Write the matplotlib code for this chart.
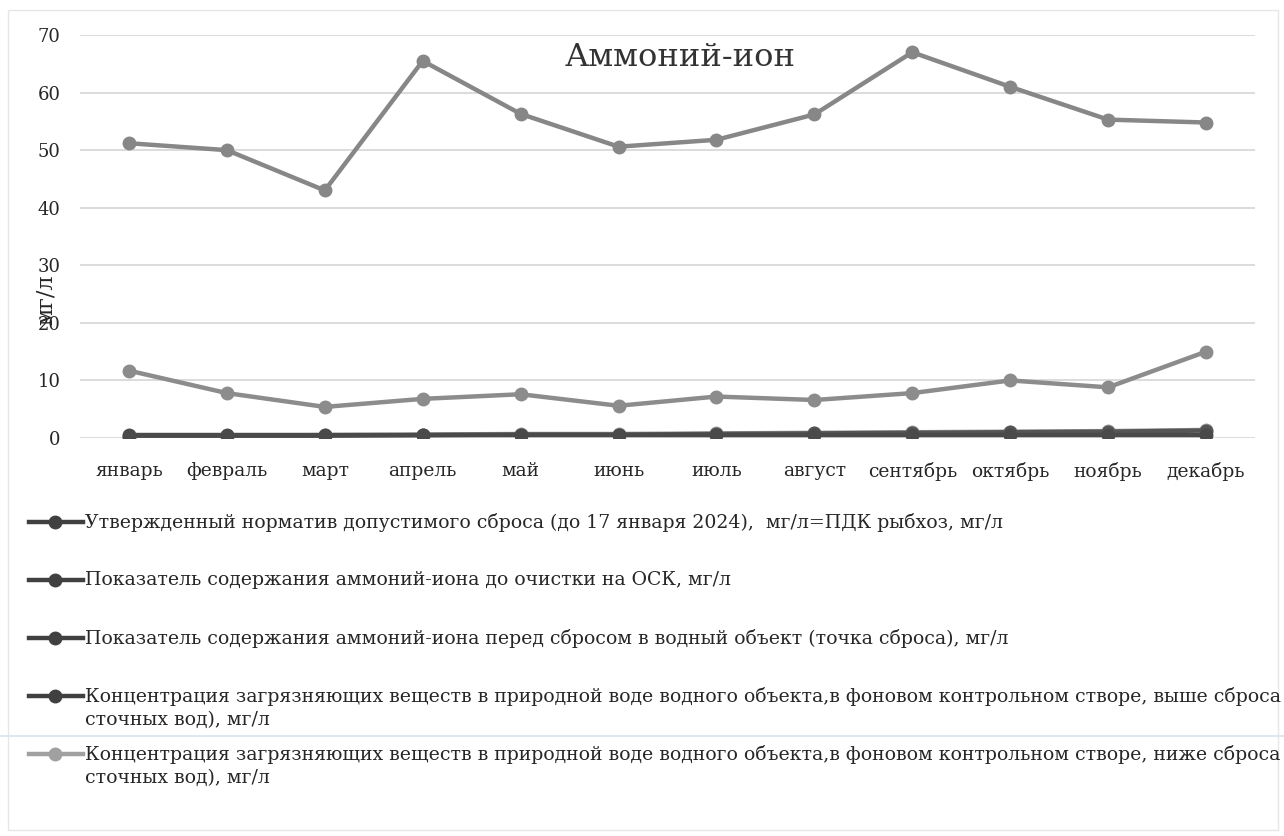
import matplotlib
matplotlib.use("Agg")
import matplotlib.pyplot as plt
from matplotlib.lines import Line2D

plt.rcParams['font.family'] = ['DejaVu Serif', 'Liberation Serif']

months = ["январь", "февраль", "март", "апрель", "май", "июнь", "июль",
          "август", "сентябрь", "октябрь", "ноябрь", "декабрь"]

norm_pdk = [0.5, 0.5, 0.5, 0.5, 0.5, 0.5, 0.5, 0.5, 0.5, 0.5, 0.5, 0.5]
before_osk = [51.2, 50.0, 43.0, 65.5, 56.3, 50.6, 51.8, 56.2, 67.0, 61.0, 55.3, 54.8]
before_discharge = [11.7, 7.8, 5.4, 6.8, 7.6, 5.6, 7.2, 6.6, 7.8, 10.0, 8.8, 15.0]
upstream = [0.2, 0.3, 0.4, 0.5, 0.6, 0.6, 0.7, 0.8, 0.9, 1.0, 1.1, 1.3]
downstream = [0.3, 0.4, 0.5, 0.6, 0.7, 0.7, 0.8, 0.9, 1.0, 1.1, 1.2, 1.4]

yticks = [0, 10, 20, 30, 40, 50, 60, 70]

labels = [
    "Утвержденный норматив допустимого сброса (до 17 января 2024),  мг/л=ПДК рыбхоз, мг/л",
    "Показатель содержания аммоний-иона до очистки на ОСК, мг/л",
    "Показатель содержания аммоний-иона перед сбросом в водный объект (точка сброса), мг/л",
    "Концентрация загрязняющих веществ в природной воде водного объекта,в фоновом контрольном створе, выше сброса\nсточных вод), мг/л",
    "Концентрация загрязняющих веществ в природной воде водного объекта,в фоновом контрольном створе, ниже сброса\nсточных вод), мг/л",
]
legend_colors = ["#404040", "#404040", "#404040", "#404040", "#a0a0a0"]

W, H = 1284, 836
fig = plt.figure(figsize=(W / 100, H / 100), dpi=100)
fig.patch.set_facecolor("white")

ax = fig.add_axes([80 / W, 1 - 438 / H, 1175 / W, 403 / H])
x = list(range(len(months)))

text_col = "#262626"
lw = 3.2
ms = 9

ax.plot(x, downstream, color="#9a9a9a", lw=lw, marker="o", ms=ms, zorder=3)
ax.plot(x, upstream, color="#555555", lw=lw, marker="o", ms=ms, zorder=4)
ax.plot(x, norm_pdk, color="#4a4a4a", lw=lw, marker="o", ms=ms, zorder=5)
ax.plot(x, before_discharge, color="#8c8c8c", lw=lw, marker="o", ms=ms, zorder=3)
ax.plot(x, before_osk, color="#878787", lw=lw, marker="o", ms=ms, zorder=3)

ax.set_xlim(-0.5, 11.5)
ax.set_ylim(0, 70)
ax.set_yticks(yticks)
ax.set_xticks(x)
ax.set_xticklabels(months)
ax.yaxis.grid(True, color="#d6d6d6", lw=1.2)
ax.set_axisbelow(True)
for s in ax.spines.values():
    s.set_visible(False)
ax.tick_params(axis="both", length=0, colors=text_col)
ax.tick_params(axis="y", pad=14, labelsize=13)
ax.tick_params(axis="x", pad=17, labelsize=13.5)
ax.set_ylabel("мг/л", fontsize=16, color=text_col)
ax.yaxis.set_label_coords(-0.029, 0.342)
ax.yaxis.label.set_va("center")

ax.text(0.511, 0.943, "Аммоний-ион", transform=ax.transAxes, ha="center", va="center",
        fontsize=23, color="#333333")

# legend drawn row by row (rows evenly spaced as in the reference)
row0, row_step, line_step = 522, 58, 24
for i, (lab, col) in enumerate(zip(labels, legend_colors)):
    yc = 1 - (row0 + row_step * i) / H
    fig.add_artist(Line2D([29 / W, 83 / W], [yc, yc], transform=fig.transFigure,
                          color=col, lw=lw))
    fig.add_artist(Line2D([55 / W], [yc], transform=fig.transFigure, color=col,
                          marker="o", ms=ms, lw=0))
    for j, part in enumerate(lab.split("\n")):
        fig.text(85 / W, 1 - (row0 + row_step * i + line_step * j) / H, part,
                 ha="left", va="center", fontsize=13.6, color=text_col)

# faint scan border and line
fig.add_artist(plt.Rectangle((8 / W, 6 / H), 1 - 14 / W, 1 - 16 / H, transform=fig.transFigure,
                             fill=False, ec="#e6e6e6", lw=1))
fig.add_artist(Line2D([0, 1], [1 - 736 / H, 1 - 736 / H], transform=fig.transFigure,
                      color="#dce9f2", lw=1.5))

fig.savefig("out.png", dpi=100, facecolor="white")
